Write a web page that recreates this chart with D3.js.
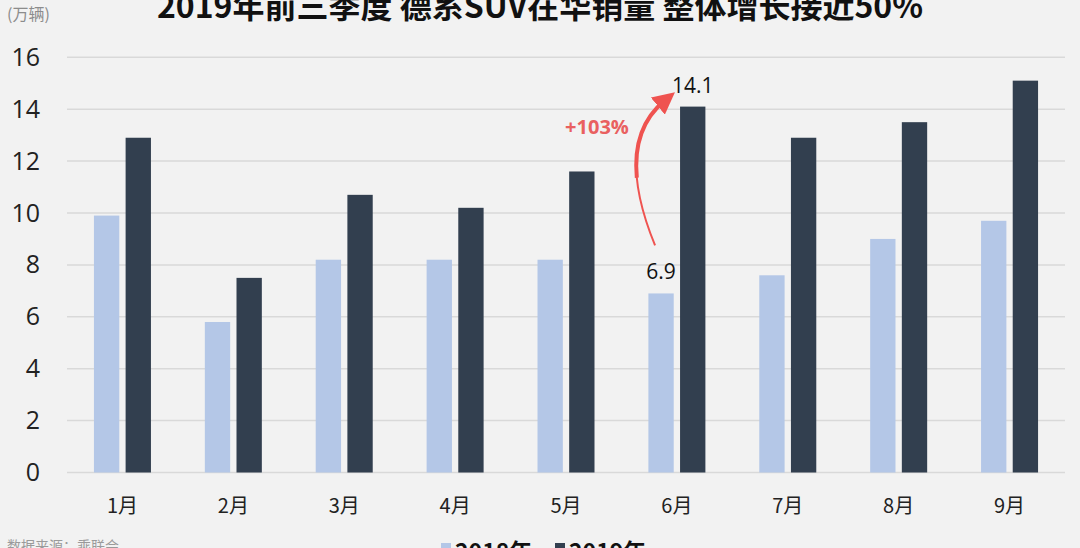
<!DOCTYPE html>
<html>
<head>
<meta charset="utf-8">
<script src="https://cdn.jsdelivr.net/npm/d3@7"></script>
<style>
  html, body { margin: 0; padding: 0; background: #f2f2f2; }
  svg { display: block; font-family: "Noto Sans CJK SC", "Noto Sans", sans-serif; }
</style>
</head>
<body>
<div id="okvir"></div>
<script>
// data
const mjeseci = ["1月", "2月", "3月", "4月", "5月", "6月", "7月", "8月", "9月"]
const serije = ["2018年", "2019年"]
const prodaja2018 = [9.9, 5.8, 8.2, 8.2, 8.2, 6.9, 7.6, 9.0, 9.7]
const prodaja2019 = [12.9, 7.5, 10.7, 10.2, 11.6, 14.1, 12.9, 13.5, 15.1]
const yTicks = [0, 2, 4, 6, 8, 10, 12, 14, 16]
const boje = ["#b4c7e7", "#323f4f"]

function crtaj() {
  const dim = { sirina: 1080, visina: 548, lijevo: 67, desno: 1065, vrh: 57.3, dno: 472.5 }

  const svg = d3.select("#okvir").append("svg")
      .attr("width", dim.sirina)
      .attr("height", dim.visina)

  svg.append("rect").attr("width", dim.sirina).attr("height", dim.visina).attr("fill", "#f2f2f2")

  const xSkala = d3.scaleBand().domain(mjeseci).range([dim.lijevo, dim.desno])
  const xSerija = d3.scaleBand().domain(serije).range([-28.5, 28.5]).paddingInner(0.2)
  const ySkala = d3.scaleLinear().domain([0, 16]).range([dim.dno, dim.vrh])

  // grid
  svg.append("g").selectAll("line").data(yTicks).enter().append("line")
      .attr("x1", dim.lijevo).attr("x2", dim.desno)
      .attr("y1", d => ySkala(d)).attr("y2", d => ySkala(d))
      .attr("stroke", "#d9d9d9").attr("stroke-width", 1.5)

  // y axis labels
  const yOs = svg.append("g")
      .attr("transform", `translate(40,0)`)
      .call(d3.axisLeft(ySkala).tickValues(yTicks).tickSize(0).tickPadding(0))
  yOs.select(".domain").remove()
  yOs.selectAll("text")
      .attr("font-family", "'Open Sans', sans-serif")
      .attr("font-size", 25).attr("fill", "#222")

  // x axis labels
  const xOs = svg.append("g")
      .attr("transform", `translate(0,${dim.dno})`)
      .call(d3.axisBottom(xSkala).tickSize(0).tickPadding(26))
  xOs.select(".domain").remove()
  xOs.selectAll("text")
      .attr("font-family", "'Noto Sans CJK SC', sans-serif")
      .attr("font-size", 20).attr("fill", "#222")

  // bars
  const podaci = mjeseci.map((m, i) => ({ mjesec: m, vrijednosti: [prodaja2018[i], prodaja2019[i]] }))
  const grupe = svg.append("g").selectAll("g").data(podaci).enter().append("g")
      .attr("transform", d => `translate(${xSkala(d.mjesec) + xSkala.bandwidth() / 2},0)`)
  grupe.selectAll("rect")
      .data(d => d.vrijednosti.map((v, j) => ({ serija: serije[j], v, j })))
      .enter().append("rect")
      .attr("x", d => xSerija(d.serija))
      .attr("width", xSerija.bandwidth())
      .attr("y", d => ySkala(d.v))
      .attr("height", d => ySkala(0) - ySkala(d.v))
      .attr("fill", d => boje[d.j])

  // annotation for June
  const i6 = mjeseci.indexOf("6月")
  const c6 = xSkala("6月") + xSkala.bandwidth() / 2
  const xL = c6 + xSerija("2018年") + xSerija.bandwidth() / 2
  const xD = c6 + xSerija("2019年") + xSerija.bandwidth() / 2

  svg.append("text")
      .attr("x", xL).attr("y", ySkala(prodaja2018[i6]) - 14)
      .attr("text-anchor", "middle")
      .attr("font-family", "'Open Sans', sans-serif")
      .attr("font-size", 21).attr("fill", "#111")
      .text(prodaja2018[i6])
  svg.append("text")
      .attr("x", xD).attr("y", ySkala(prodaja2019[i6]) - 14)
      .attr("text-anchor", "middle")
      .attr("font-family", "'Open Sans', sans-serif")
      .attr("font-size", 21).attr("fill", "#111")
      .text(prodaja2019[i6])

  const crvena = "#ef5350"
  svg.append("defs").append("marker")
      .attr("id", "strelica")
      .attr("viewBox", "0 0 10 10")
      .attr("refX", 4).attr("refY", 5)
      .attr("markerWidth", 5.5).attr("markerHeight", 5.5)
      .attr("markerUnits", "strokeWidth")
      .attr("orient", "auto")
    .append("path")
      .attr("d", "M0,0 L10,5 L0,10 z")
      .attr("fill", crvena)

  const x0 = xL - 6, y0 = ySkala(prodaja2018[i6]) - 48
  const x1 = xD - 28, y1 = ySkala(prodaja2019[i6]) - 6
  // tapered curve: several strokes getting thicker toward the arrowhead
  const luk = svg.append("path")
      .attr("d", `M${x0},${y0} Q${x0 - 42},${y1 + 42} ${x1},${y1}`)
      .attr("fill", "none")
      .attr("stroke", crvena)
      .attr("stroke-width", 2)
  const duljina = luk.node().getTotalLength()
  svg.append("path")
      .attr("d", `M${x0},${y0} Q${x0 - 42},${y1 + 42} ${x1},${y1}`)
      .attr("fill", "none")
      .attr("stroke", crvena)
      .attr("stroke-width", 4)
      .attr("stroke-dasharray", `0 ${duljina * 0.45} ${duljina}`)
      .attr("marker-end", "url(#strelica)")

  svg.append("text")
      .attr("x", 597).attr("y", 134)
      .attr("text-anchor", "middle")
      .attr("font-family", "'Open Sans', sans-serif")
      .attr("font-weight", "bold")
      .attr("font-size", 20).attr("fill", "#e96060")
      .text("+103%")

  // title and notes
  svg.append("text")
      .attr("x", 540).attr("y", 18)
      .attr("text-anchor", "middle")
      .attr("font-weight", "bold")
      .attr("font-size", 32).attr("fill", "#111")
      .text("2019年前三季度 德系SUV在华销量 整体增长接近50%")

  svg.append("text")
      .attr("x", 7).attr("y", 20)
      .attr("font-size", 16).attr("fill", "#8c8c8c")
      .text("(万辆)")

  svg.append("text")
      .attr("x", 7).attr("y", 551)
      .attr("font-size", 14).attr("fill", "#9a9a9a")
      .text("数据来源：乘联会")

  // legend
  const legenda = svg.append("g")
  const pozicije = [441, 555]
  serije.forEach((s, j) => {
    legenda.append("rect")
        .attr("x", pozicije[j]).attr("y", 543)
        .attr("width", 10).attr("height", 10)
        .attr("fill", boje[j])
    legenda.append("text")
        .attr("x", pozicije[j] + 14).attr("y", 560)
        .attr("font-weight", "bold")
        .attr("font-size", 23).attr("fill", "#111")
        .text(s)
  })
}
crtaj()
</script>
</body>
</html>
